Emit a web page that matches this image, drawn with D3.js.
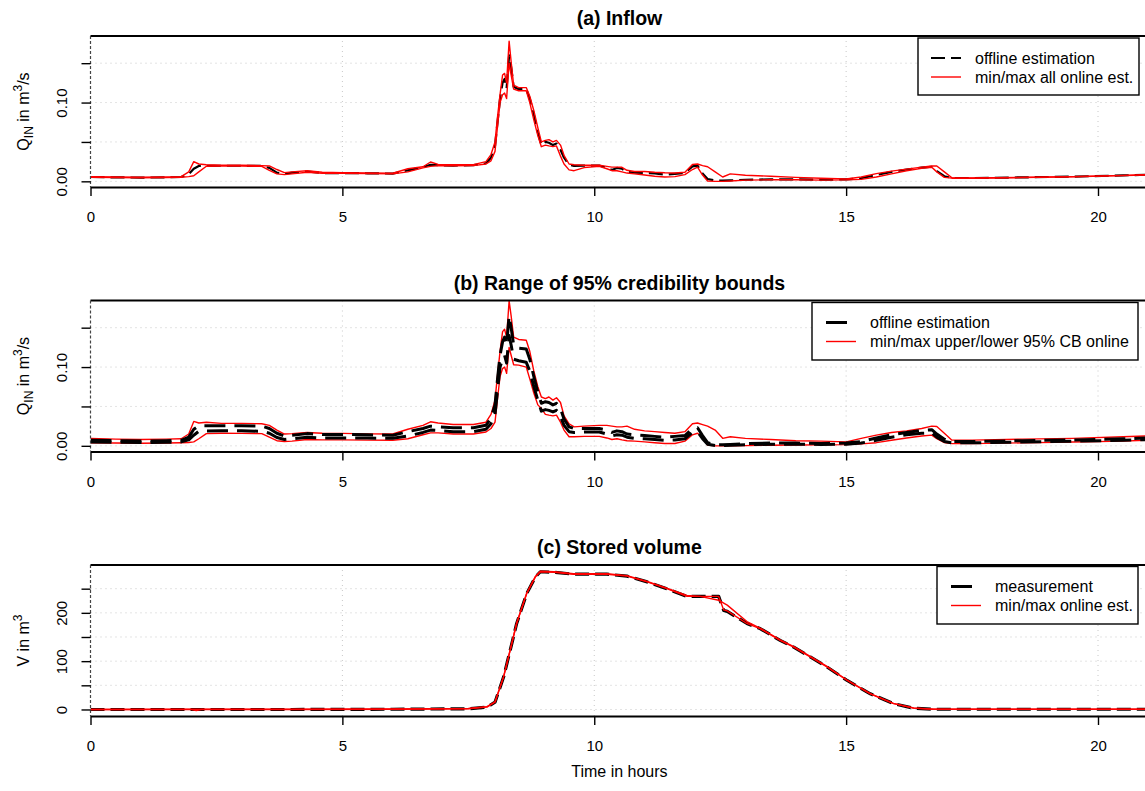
<!DOCTYPE html>
<html>
<head>
<meta charset="utf-8">
<script src="https://cdn.jsdelivr.net/npm/d3@7"></script>
<style>
  body { margin: 0; background: #fff; }
  svg { display: block; font-family: "Liberation Sans", Arial, sans-serif; }
</style>
</head>
<body>
<svg id="chart" width="1145" height="791"></svg>
<script>
// time grid (hours) shared by panels (a) and (b)
const hours = [
  0, 0.5, 1, 1.5, 1.8, 1.95, 2.05, 2.15, 2.3, 2.6,
  3.0, 3.4, 3.55, 3.7, 3.85, 4.0, 4.3, 4.6, 5.0, 5.5,
  6.0, 6.3, 6.6, 6.75, 6.9, 7.2, 7.6, 7.85, 7.95, 8.03,
  8.08, 8.13, 8.18, 8.22, 8.26, 8.31, 8.35, 8.4, 8.5, 8.65,
  8.72, 8.8, 8.88, 8.95, 9.03, 9.1, 9.18, 9.25, 9.33, 9.4,
  9.5, 9.6, 9.8, 10.1, 10.25, 10.35, 10.45, 10.55, 10.65, 10.8,
  11.0, 11.2, 11.4, 11.6, 11.8, 11.95, 12.05, 12.15, 12.25, 12.4,
  12.55, 12.7, 13.0, 13.5, 14.0, 14.5, 15.0, 15.3, 15.6, 15.9,
  16.2, 16.5, 16.7, 16.8, 16.95, 17.1, 17.5, 18.5, 19.5, 20.5,
  21
];

// (a) inflow
const offlineQ = [
  0.0055, 0.005, 0.0048, 0.005, 0.0055, 0.009, 0.016, 0.0195, 0.0195, 0.0198,
  0.0198, 0.0195, 0.017, 0.011, 0.0095, 0.011, 0.0125, 0.0105, 0.0105, 0.0102,
  0.0098, 0.014, 0.018, 0.021, 0.0205, 0.02, 0.0205, 0.023, 0.03, 0.045,
  0.075, 0.105, 0.125, 0.13, 0.118, 0.16, 0.145, 0.12, 0.117, 0.117,
  0.105, 0.085, 0.062, 0.046, 0.05, 0.049, 0.046, 0.048, 0.04, 0.03,
  0.021, 0.0195, 0.02, 0.02, 0.017, 0.0145, 0.017, 0.016, 0.012, 0.011,
  0.0105, 0.01, 0.0085, 0.0095, 0.0105, 0.019, 0.02, 0.01, 0.003, 0.001,
  0.001, 0.0012, 0.002, 0.0025, 0.0025, 0.002, 0.0025, 0.004, 0.008, 0.012,
  0.015, 0.0175, 0.0185, 0.013, 0.0065, 0.0042, 0.0042, 0.005, 0.006, 0.0075,
  0.0085
];
const onlineMinQ = [
  0.0052, 0.0047, 0.0045, 0.0047, 0.0052, 0.006, 0.007, 0.012, 0.0192, 0.0195,
  0.0195, 0.019, 0.014, 0.0095, 0.0085, 0.0095, 0.0115, 0.0102, 0.0102, 0.0098,
  0.0095, 0.012, 0.017, 0.019, 0.02, 0.0198, 0.02, 0.022, 0.026, 0.038,
  0.07, 0.1, 0.11, 0.112, 0.105, 0.15, 0.135, 0.117, 0.115, 0.115,
  0.1, 0.078, 0.058, 0.044, 0.046, 0.045, 0.044, 0.045, 0.032, 0.022,
  0.0145, 0.0135, 0.0175, 0.019, 0.016, 0.0135, 0.0135, 0.012, 0.0105, 0.0095,
  0.008, 0.0065, 0.0055, 0.006, 0.0085, 0.015, 0.018, 0.008, 0.0005, 0,
  0, 0.0005, 0.0015, 0.002, 0.002, 0.0015, 0.0018, 0.0025, 0.0055, 0.0095,
  0.0135, 0.0165, 0.0178, 0.012, 0.005, 0.004, 0.004, 0.0048, 0.0058, 0.0072,
  0.0082
];
const onlineMaxQ = [
  0.006, 0.0055, 0.0052, 0.0055, 0.006, 0.012, 0.025, 0.022, 0.021, 0.0205,
  0.0205, 0.02, 0.0195, 0.015, 0.011, 0.012, 0.0135, 0.0115, 0.011, 0.0105,
  0.0102, 0.016, 0.0185, 0.0245, 0.0215, 0.021, 0.0212, 0.025, 0.034, 0.05,
  0.082, 0.11, 0.135, 0.137, 0.125, 0.178, 0.152, 0.122, 0.119, 0.119,
  0.108, 0.09, 0.068, 0.05, 0.052, 0.053, 0.05, 0.052, 0.046, 0.033,
  0.022, 0.021, 0.0205, 0.0205, 0.019, 0.018, 0.018, 0.0178, 0.014, 0.0125,
  0.0125, 0.0115, 0.0108, 0.0105, 0.0115, 0.0215, 0.022, 0.02, 0.0185, 0.012,
  0.0055, 0.0095, 0.0078, 0.0065, 0.005, 0.004, 0.003, 0.0055, 0.0098, 0.013,
  0.0155, 0.018, 0.0195, 0.0195, 0.012, 0.0045, 0.0043, 0.005, 0.006, 0.0075,
  0.0086
];

// (b) 95% credibility bounds
const cbOnlineMax = [
  0.0094, 0.0085, 0.008, 0.0085, 0.009, 0.015, 0.031, 0.029, 0.03, 0.0285,
  0.0285, 0.028, 0.026, 0.02, 0.015, 0.0155, 0.017, 0.016, 0.0158, 0.0152,
  0.015, 0.021, 0.026, 0.0305, 0.029, 0.027, 0.027, 0.03, 0.04, 0.058,
  0.09, 0.12, 0.145, 0.148, 0.138, 0.184, 0.165, 0.138, 0.135, 0.134,
  0.12, 0.095, 0.075, 0.062, 0.06, 0.062, 0.058, 0.061, 0.055, 0.038,
  0.028, 0.024, 0.025, 0.026, 0.026, 0.025, 0.024, 0.024, 0.025, 0.021,
  0.019, 0.018, 0.017, 0.016, 0.018, 0.028, 0.029, 0.027, 0.025, 0.02,
  0.0095, 0.0115, 0.0095, 0.008, 0.0065, 0.006, 0.005, 0.0094, 0.0136, 0.017,
  0.019, 0.022, 0.025, 0.0245, 0.016, 0.0072, 0.0072, 0.0085, 0.0095, 0.0115,
  0.0127
];
const cbOnlineMin = [
  0.0038, 0.0035, 0.0033, 0.0035, 0.004, 0.0042, 0.005, 0.009, 0.0155, 0.016,
  0.0158, 0.0155, 0.011, 0.0065, 0.0055, 0.006, 0.008, 0.0075, 0.0075, 0.0072,
  0.007, 0.009, 0.014, 0.0165, 0.0165, 0.015, 0.015, 0.0175, 0.022, 0.03,
  0.06, 0.088, 0.098, 0.1, 0.092, 0.125, 0.115, 0.103, 0.1025, 0.1,
  0.085, 0.067, 0.052, 0.0475, 0.04, 0.039, 0.038, 0.039, 0.03, 0.02,
  0.0115, 0.0115, 0.012, 0.012, 0.01, 0.008, 0.009, 0.0075, 0.0065, 0.006,
  0.005, 0.004, 0.003, 0.003, 0.006, 0.014, 0.016, 0.0115, 0.001, 0,
  0, 0, 0.0003, 0.0008, 0.001, 0.0012, 0.0015, 0.0025, 0.004, 0.007,
  0.01, 0.0125, 0.0136, 0.009, 0.004, 0.0028, 0.0028, 0.0038, 0.0048, 0.006,
  0.0072
];
const cbOfflineUpper = [
  0.0072, 0.0065, 0.006, 0.0065, 0.007, 0.011, 0.021, 0.0255, 0.0255, 0.0255,
  0.0255, 0.025, 0.022, 0.016, 0.0125, 0.0135, 0.0155, 0.0145, 0.0145, 0.014,
  0.0135, 0.018, 0.022, 0.025, 0.024, 0.023, 0.023, 0.026, 0.035, 0.052,
  0.085, 0.115, 0.132, 0.138, 0.128, 0.165, 0.15, 0.128, 0.124, 0.123,
  0.11, 0.088, 0.068, 0.054, 0.056, 0.055, 0.052, 0.054, 0.047, 0.034,
  0.024, 0.022, 0.022, 0.022, 0.02, 0.017, 0.019, 0.018, 0.015, 0.014,
  0.013, 0.012, 0.011, 0.012, 0.013, 0.022, 0.023, 0.013, 0.004, 0.0015,
  0.0015, 0.0018, 0.0028, 0.0035, 0.0035, 0.003, 0.0035, 0.0055, 0.01, 0.014,
  0.017, 0.0195, 0.0205, 0.015, 0.0085, 0.0055, 0.0055, 0.0065, 0.0075, 0.009,
  0.01
];
const cbOfflineLower = [
  0.005, 0.0045, 0.0042, 0.0045, 0.005, 0.0075, 0.0135, 0.0185, 0.0188, 0.019,
  0.019, 0.0185, 0.016, 0.0105, 0.008, 0.009, 0.011, 0.01, 0.01, 0.0098,
  0.0095, 0.0125, 0.017, 0.02, 0.0195, 0.018, 0.018, 0.021, 0.028, 0.04,
  0.07, 0.1, 0.11, 0.115, 0.105, 0.14, 0.128, 0.11, 0.108, 0.106,
  0.095, 0.075, 0.058, 0.044, 0.046, 0.045, 0.043, 0.045, 0.037, 0.026,
  0.018, 0.017, 0.0175, 0.0175, 0.015, 0.0125, 0.014, 0.0135, 0.011, 0.0095,
  0.009, 0.008, 0.007, 0.0075, 0.009, 0.017, 0.018, 0.009, 0.002, 0.0005,
  0.0005, 0.0008, 0.0015, 0.002, 0.002, 0.0018, 0.002, 0.0035, 0.007, 0.011,
  0.014, 0.016, 0.0165, 0.011, 0.0055, 0.0038, 0.0038, 0.0048, 0.0058, 0.007,
  0.008
];

// (c) stored volume
const hoursV = [
  0, 2.0, 2.1, 2.2, 4, 6, 7.5, 7.87, 8.03, 8.2,
  8.33, 8.46, 8.66, 8.83, 8.93, 9.2, 9.59, 10.25, 10.65, 11.05,
  11.44, 11.84, 12.1, 12.47, 12.57, 12.64, 13.03, 13.3, 13.69, 13.96,
  14.62, 15.02, 15.48, 15.94, 16.34, 16.74, 18, 21
];
const measuredV = [
  0, 0, 0, 0, 0, 0.5, 1.5, 5, 15, 67,
  122, 178, 240, 274, 285, 284, 280, 280, 276, 264,
  250, 234, 234, 234, 205, 203, 178, 167, 143, 129,
  88, 60, 32.5, 12, 2.7, 0.5, 0.5, 0.5
];
const onlineMinV = [
  0, 0, -2, 0, 0, 0.5, 1.5, 5, 15, 67,
  122, 178, 240, 274, 285, 284, 280, 280, 276, 264,
  250, 234, 234, 234, 206, 204, 178, 167, 143, 129,
  88, 60, 32.5, 12, 2.7, 0.5, 0.5, 0.5
];
const onlineMaxV = [
  0, 0.5, 0.5, 0.5, 0.5, 1, 2, 6, 16, 68,
  123, 179, 241, 275, 286, 285, 281, 281, 277, 265,
  251, 236, 234, 226, 220, 216, 182, 168, 144, 130,
  89, 61, 33, 12.5, 3, 0.5, 0.5, 0.5
];

const xTicks = [0, 5, 10, 15, 20];
const qTicks = [0, 0.05, 0.10, 0.15];
const qLabels = [0, 0.10];
const vTicks = [0, 50, 100, 150, 200, 250];
const vLabels = [0, 100, 200];

const width = 1145;
const plotLeft = 90.5;
const pxPerHour = 50.375;
const panelHeight = 151;

const x = d3.scaleLinear()
  .domain([0, 21])
  .range([plotLeft, plotLeft + 21 * pxPerHour]);

const svg = d3.select('#chart');

const panels = [
  {
    top: 36,
    title: '(a) Inflow',
    yLabel: [['Q', 0], ['IN', 'sub'], [' in m', 0], ['3', 'sup'], ['/s', 0]],
    domain: [-0.0072, 0.1845],
    ticks: qTicks,
    labels: qLabels,
    fmt: d3.format('.2f'),
    times: hours,
    series: [
      { values: offlineQ, color: '#000', width: 2.2, dash: '14,6' },
      { values: onlineMinQ, color: '#ff0000', width: 1.4 },
      { values: onlineMaxQ, color: '#ff0000', width: 1.4 }
    ],
    legend: {
      x: 918, y: 38, w: 221, h: 57, sampleX: 931, textX: 975,
      items: [
        { text: 'offline estimation', color: '#000', width: 2.2, dash: '14,6' },
        { text: 'min/max all online est.', color: '#ff0000', width: 1.4 }
      ]
    }
  },
  {
    top: 300.5,
    title: '(b) Range of 95% credibility bounds',
    yLabel: [['Q', 0], ['IN', 'sub'], [' in m', 0], ['3', 'sup'], ['/s', 0]],
    domain: [-0.0072, 0.1845],
    ticks: qTicks,
    labels: qLabels,
    fmt: d3.format('.2f'),
    times: hours,
    series: [
      { values: cbOnlineMax, color: '#ff0000', width: 1.4 },
      { values: cbOnlineMin, color: '#ff0000', width: 1.4 },
      { values: cbOfflineUpper, color: '#000', width: 3, dash: '21,9' },
      { values: cbOfflineLower, color: '#000', width: 3, dash: '21,9' }
    ],
    legend: {
      x: 812, y: 302.5, w: 326, h: 57.5, sampleX: 826, textX: 870,
      items: [
        { text: 'offline estimation', color: '#000', width: 3, dash: '21,9' },
        { text: 'min/max upper/lower 95% CB online', color: '#ff0000', width: 1.4 }
      ]
    }
  },
  {
    top: 565,
    title: '(c) Stored volume',
    yLabel: [['V in m', 0], ['3', 'sup']],
    domain: [-13.5, 299],
    ticks: vTicks,
    labels: vLabels,
    fmt: d3.format('d'),
    times: hoursV,
    series: [
      { values: measuredV, color: '#000', width: 3.2, dash: '14,6' },
      { values: onlineMinV, color: '#ff0000', width: 1.4 },
      { values: onlineMaxV, color: '#ff0000', width: 1.4 }
    ],
    legend: {
      x: 937, y: 566.5, w: 201, h: 57.5, sampleX: 951, textX: 995,
      items: [
        { text: 'measurement', color: '#000', width: 3, dash: '21,9' },
        { text: 'min/max online est.', color: '#ff0000', width: 1.4 }
      ]
    }
  }
];

panels.forEach((p, idx) => {
  const bottom = p.top + panelHeight;
  const y = d3.scaleLinear().domain(p.domain).range([bottom, p.top]);
  const g = svg.append('g');

  // dotted grid
  g.append('g')
    .selectAll('line')
    .data(xTicks.slice(1))
    .enter()
    .append('line')
    .attr('x1', d => x(d)).attr('x2', d => x(d))
    .attr('y1', p.top).attr('y2', bottom)
    .attr('stroke', '#c8c8c8')
    .attr('stroke-dasharray', '1,4');
  g.append('g')
    .selectAll('line')
    .data(p.ticks)
    .enter()
    .append('line')
    .attr('x1', plotLeft).attr('x2', width)
    .attr('y1', d => y(d)).attr('y2', d => y(d))
    .attr('stroke', '#c8c8c8')
    .attr('stroke-dasharray', '1,4');

  // data lines
  const clipId = `clip${ idx }`;
  g.append('clipPath')
    .attr('id', clipId)
    .append('rect')
    .attr('x', plotLeft).attr('y', p.top - 1)
    .attr('width', width - plotLeft).attr('height', panelHeight + 1);

  const lines = g.append('g').attr('clip-path', `url(#${ clipId })`);
  p.series.forEach(s => {
    const line = d3.line()
      .x((d, i) => x(p.times[i]))
      .y(d => y(d));
    lines.append('path')
      .datum(s.values)
      .attr('d', line)
      .attr('fill', 'none')
      .attr('stroke', s.color)
      .attr('stroke-width', s.width)
      .attr('stroke-linejoin', 'round')
      .attr('stroke-dasharray', s.dash || null);
  });

  // frame: top rule and dark dotted left edge
  g.append('line')
    .attr('x1', plotLeft).attr('x2', width)
    .attr('y1', p.top).attr('y2', p.top)
    .attr('stroke', '#000').attr('stroke-width', 2);
  g.append('line')
    .attr('x1', plotLeft).attr('x2', plotLeft)
    .attr('y1', p.top).attr('y2', bottom)
    .attr('stroke', '#444').attr('stroke-width', 1.2)
    .attr('stroke-dasharray', '3,2');

  // x axis
  const xAxis = d3.axisBottom(x)
    .tickValues(xTicks)
    .tickSize(9)
    .tickSizeOuter(0);
  const xg = g.append('g')
    .attr('transform', `translate(0, ${ bottom })`)
    .call(xAxis);
  xg.select('.domain').attr('stroke-width', 2.2);
  xg.selectAll('.tick line').attr('stroke-width', 1.4);
  xg.selectAll('text')
    .attr('y', 35).attr('dy', null)
    .attr('font-size', 15)
    .attr('font-family', '"Liberation Sans", Arial, sans-serif')
    .attr('fill', '#000');

  // y axis
  const yAxis = d3.axisLeft(y)
    .tickValues(p.ticks)
    .tickSize(9)
    .tickFormat(d => p.labels.includes(d) ? p.fmt(d) : '');
  const yg = g.append('g')
    .attr('transform', `translate(${ plotLeft }, 0)`)
    .call(yAxis);
  yg.select('.domain').remove();
  yg.selectAll('.tick line').attr('stroke-width', 1.4);
  yg.selectAll('text')
    .attr('x', 0).attr('y', 0).attr('dy', null)
    .attr('transform', 'translate(-23.5, 0) rotate(-90)')
    .attr('text-anchor', 'middle')
    .attr('font-size', 15)
    .attr('font-family', '"Liberation Sans", Arial, sans-serif')
    .attr('fill', '#000');

  // title
  g.append('text')
    .attr('x', (plotLeft + x.range()[1]) / 2)
    .attr('y', p.top - 11)
    .attr('text-anchor', 'middle')
    .attr('font-weight', 'bold')
    .attr('font-size', 19.5)
    .text(p.title);

  // y label with sub/superscripts
  const label = g.append('text')
    .attr('transform', `translate(29, ${ p.top + panelHeight / 2 }) rotate(-90)`)
    .attr('text-anchor', 'middle')
    .attr('font-size', 16);
  let shift = 0;
  p.yLabel.forEach(([t, kind]) => {
    const target = kind === 'sub' ? 4 : kind === 'sup' ? -7 : 0;
    label.append('tspan')
      .attr('dy', target - shift)
      .attr('font-size', kind ? 12 : 16)
      .text(t);
    shift = target;
  });

  // legend
  const lg = p.legend;
  const leg = g.append('g');
  leg.append('rect')
    .attr('x', lg.x).attr('y', lg.y)
    .attr('width', lg.w).attr('height', lg.h)
    .attr('fill', '#fff')
    .attr('stroke', '#000')
    .attr('stroke-width', 1.4);
  lg.items.forEach((it, i) => {
    const cy = lg.y + 20 + i * 19;
    leg.append('line')
      .attr('x1', lg.sampleX).attr('x2', lg.sampleX + 30)
      .attr('y1', cy).attr('y2', cy)
      .attr('stroke', it.color)
      .attr('stroke-width', it.width)
      .attr('stroke-dasharray', it.dash || null);
    leg.append('text')
      .attr('x', lg.textX)
      .attr('y', cy + 5.5)
      .attr('font-size', 16)
      .text(it.text);
  });
});

// common x label
svg.append('text')
  .attr('x', (plotLeft + x.range()[1]) / 2)
  .attr('y', 777)
  .attr('text-anchor', 'middle')
  .attr('font-size', 16)
  .text('Time in hours');
</script>
</body>
</html>
